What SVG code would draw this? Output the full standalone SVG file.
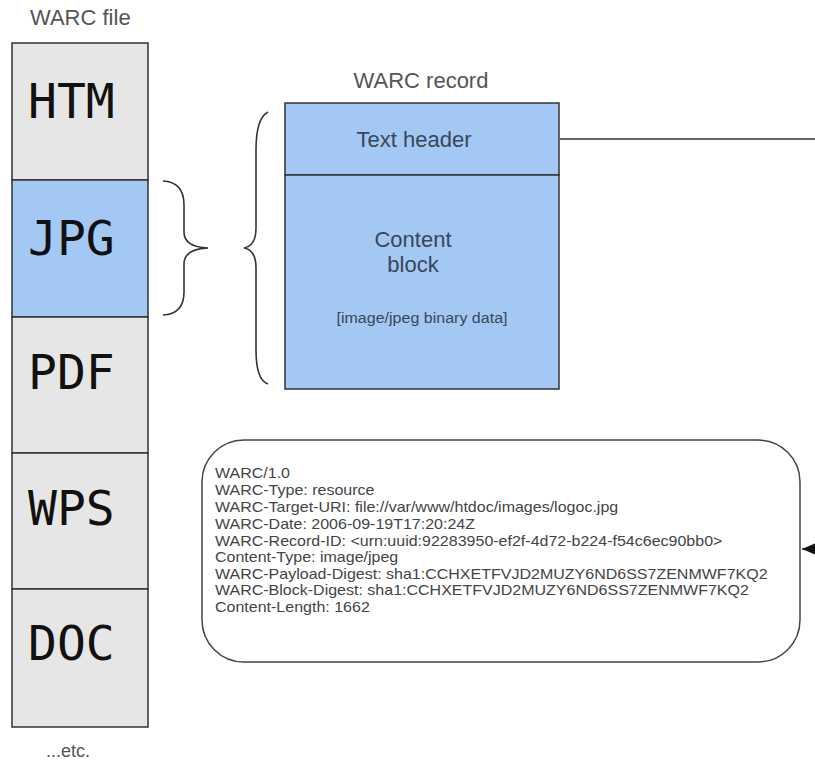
<svg xmlns="http://www.w3.org/2000/svg" width="815" height="769" viewBox="0 0 815 769">
<defs>
<style>
.lbl{font-family:"Liberation Sans",Arial,sans-serif;fill:#555;font-size:22px}
.seg{stroke:#333;stroke-width:1.5}
.gray{fill:#e6e6e6}
.blue{fill:#a4c8f4}
.mono{font-family:"DejaVu Sans Mono",monospace;font-size:48px;fill:#111}
.btxt{font-family:"Liberation Sans",Arial,sans-serif;fill:#3a4658;text-anchor:middle}
.rec{font-family:"Liberation Sans",Arial,sans-serif;font-size:14px;fill:#444}
.brace{fill:none;stroke:#333;stroke-width:1.6}
.conn{fill:none;stroke:#666;stroke-width:2.2}
</style>
<marker id="arr" viewBox="0 0 14 12" refX="14" refY="6" markerWidth="14" markerHeight="12" orient="auto" markerUnits="userSpaceOnUse">
<path d="M0,0 L14,6 L0,12 Z" fill="#111"/>
</marker>
</defs>
<rect width="815" height="769" fill="#fff"/>
<text class="lbl" x="30" y="25">WARC file</text>
<g id="seg-htm"><rect class="seg gray" x="12" y="43" width="136" height="137"/><text class="mono" x="28" y="118">HTM</text></g>
<g id="seg-jpg"><rect class="seg blue" x="12" y="180" width="136" height="137"/><text class="mono" x="28" y="255">JPG</text></g>
<g id="seg-pdf"><rect class="seg gray" x="12" y="317" width="136" height="136"/><text class="mono" x="28" y="389">PDF</text></g>
<g id="seg-wps"><rect class="seg gray" x="12" y="453" width="136" height="136"/><text class="mono" x="28" y="525">WPS</text></g>
<g id="seg-doc"><rect class="seg gray" x="12" y="589" width="136" height="138"/><text class="mono" x="28" y="660">DOC</text></g>
<text class="lbl" x="46" y="757" style="font-size:18px">...etc.</text>
<g id="braces">
<path class="brace" d="M163,181 Q184,182 184,205 L184,232 Q184,247 208,248 Q184,249 184,264 L184,292 Q184,314 163,315"/>
<path class="brace" d="M268,112 Q256,118 256,150 L256,228 Q256,246 244,248 Q256,250 256,268 L256,350 Q256,380 268,384"/>
</g>
<text class="lbl" x="421" y="88" text-anchor="middle">WARC record</text>
<g id="warc-record">
<rect class="seg blue" x="285" y="103" width="274" height="72"/>
<text class="btxt" x="414" y="147" font-size="22">Text header</text>
<rect class="seg blue" x="285" y="175" width="274" height="214"/>
<text class="btxt" x="413" y="247" font-size="22">Content</text>
<text class="btxt" x="413" y="272" font-size="22">block</text>
<text class="btxt" x="422" y="323" font-size="14" textLength="171" lengthAdjust="spacingAndGlyphs">[image/jpeg binary data]</text>
</g>
<g id="header-text">
<rect x="202" y="440" width="598" height="222" rx="42" ry="42" fill="#fff" stroke="#444" stroke-width="1.5"/>
<g transform="translate(215,0) scale(1.144,1) translate(-215,0)">
<text class="rec" x="215" y="478">WARC/1.0</text>
<text class="rec" x="215" y="495">WARC-Type: resource</text>
<text class="rec" x="215" y="512">WARC-Target-URI: file://var/www/htdoc/images/logoc.jpg</text>
<text class="rec" x="215" y="529">WARC-Date: 2006-09-19T17:20:24Z</text>
<text class="rec" x="215" y="546">WARC-Record-ID: &lt;urn:uuid:92283950-ef2f-4d72-b224-f54c6ec90bb0&gt;</text>
<text class="rec" x="215" y="562">Content-Type: image/jpeg</text>
<text class="rec" x="215" y="579">WARC-Payload-Digest: sha1:CCHXETFVJD2MUZY6ND6SS7ZENMWF7KQ2</text>
<text class="rec" x="215" y="595">WARC-Block-Digest: sha1:CCHXETFVJD2MUZY6ND6SS7ZENMWF7KQ2</text>
<text class="rec" x="215" y="612">Content-Length: 1662</text>
</g>
</g>
<g id="connectors">
<path class="conn" d="M559,139 L815,139"/>
<path class="conn" d="M830,549 L802,549" marker-end="url(#arr)"/>
</g>
</svg>
